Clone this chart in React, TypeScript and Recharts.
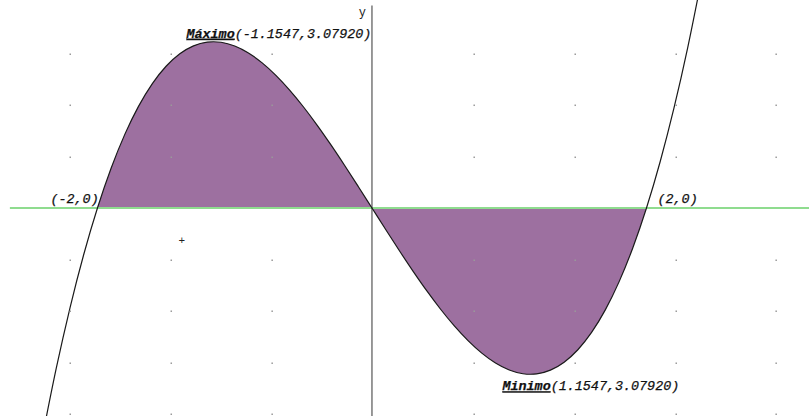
import { ComposedChart, Line, Area, Scatter, XAxis, YAxis, ReferenceLine, ReferenceDot } from 'recharts'

// curve points (x, y)
const xs = [-2.4, -2.3, -2.2, -2.1, -2.0, -1.9, -1.8, -1.7, -1.6, -1.5, -1.4, -1.3, -1.2, -1.1547, -1.1, -1.0, -0.9, -0.8, -0.7, -0.6, -0.5, -0.4, -0.3, -0.2, -0.1, 0,
  0.1, 0.2, 0.3, 0.4, 0.5, 0.6, 0.7, 0.8, 0.9, 1.0, 1.1, 1.1547, 1.2, 1.3, 1.4, 1.5, 1.6, 1.7, 1.8, 1.9, 2.0, 2.1, 2.2, 2.3, 2.4]
const ys = [-4.224, -2.967, -1.848, -0.861, 0, 0.741, 1.368, 1.887, 2.304, 2.625, 2.856, 3.003, 3.072, 3.0792, 3.069, 3.0, 2.871, 2.688, 2.457, 2.184, 1.875, 1.536, 1.173, 0.792, 0.399, 0,
  -0.399, -0.792, -1.173, -1.536, -1.875, -2.184, -2.457, -2.688, -2.871, -3.0, -3.069, -3.0792, -3.072, -3.003, -2.856, -2.625, -2.304, -1.887, -1.368, -0.741, 0, 0.861, 1.848, 2.967, 4.224]

// shaded between the roots
const areaFrom = -2
const areaTo = 2

// dotted background grid
const gridX = [-2.2, -1.464, -0.729, 0.743, 1.479, 2.215, 2.943]
const gridY = [2.852, 1.907, 0.944, -0.963, -1.907, -2.87, -3.815]

const data = xs.map((x, i) => ({
  x,
  y: ys[i],
  fill: x >= areaFrom && x <= areaTo ? ys[i] : null,
}))

const gridDots = gridX.flatMap((x) => gridY.map((y) => ({ x, y })))

const monoFont = '"Liberation Mono", "DejaVu Sans Mono", monospace'

function PointLabel(props: any) {
  const { viewBox, name, coords, dx, dy } = props
  const cx = viewBox.x + viewBox.width / 2
  const cy = viewBox.y + viewBox.height / 2
  return (
    <text x={cx + dx} y={cy + dy} fontFamily={monoFont} fontSize={13.4} fontStyle="italic" fill="#111" stroke="#111" strokeWidth={0.25}>
      {name ? (
        <tspan fontWeight="bold" textDecoration="underline">{name}</tspan>
      ) : null}
      <tspan>{coords}</tspan>
    </text>
  )
}

const GridDot = (props: any) => (
  <rect x={props.cx - 0.5} y={props.cy - 0.5} width={1.5} height={1.5} fill="#9a9a9a" />
)

export default function App() {
  return (
    <div style={{ position: 'fixed', left: 0, top: 0, background: '#fff' }}>
      <ComposedChart width={809} height={416} data={data} margin={{ top: 0, right: 0, bottom: 0, left: 0 }}>
        <XAxis type="number" dataKey="x" domain={[-2.71, 3.184]} hide allowDataOverflow />
        <YAxis type="number" domain={[-3.852, 3.852]} hide allowDataOverflow />
        <Scatter data={gridDots} dataKey="y" shape={GridDot} isAnimationActive={false} />
        <Area
          dataKey="fill"
          type="monotone"
          baseValue={0}
          fill="#9d70a0"
          fillOpacity={1}
          stroke="none"
          isAnimationActive={false}
        />
        <ReferenceLine segment={[{ x: -2.638, y: 0 }, { x: 3.184, y: 0 }]} stroke="#8fdc8f" strokeWidth={2} />
        <ReferenceLine segment={[{ x: 0, y: 3.75 }, { x: 0, y: -3.852 }]} stroke="#333" strokeWidth={1} />
        <Line dataKey="y" type="monotone" stroke="#1a1a1a" strokeWidth={1.2} dot={false} isAnimationActive={false} />
        <ReferenceDot x={-1.1547} y={3.0792} r={0} stroke="none"
          label={<PointLabel name="Máximo" coords="(-1.1547,3.07920)" dx={-27} dy={-4} />} />
        <ReferenceDot x={1.1547} y={-3.0792} r={0} stroke="none"
          label={<PointLabel name="Minimo" coords="(1.1547,3.07920)" dx={-28} dy={16} />} />
        <ReferenceDot x={-2} y={0} r={0} stroke="none"
          label={<PointLabel coords="(-2,0)" dx={-47} dy={-5} />} />
        <ReferenceDot x={2} y={0} r={0} stroke="none"
          label={<PointLabel coords="(2,0)" dx={11} dy={-5} />} />
        <ReferenceDot x={0} y={3.75} r={0} stroke="none"
          label={{ value: 'y', position: 'left', offset: 6, fontFamily: monoFont, fontSize: 12, fill: '#222', dy: 6 }} />
        <ReferenceDot x={-1.385} y={-0.6} r={0} stroke="none"
          label={{ value: '+', position: 'center', fontFamily: monoFont, fontSize: 11, fill: '#222' }} />
      </ComposedChart>
    </div>
  )
}
